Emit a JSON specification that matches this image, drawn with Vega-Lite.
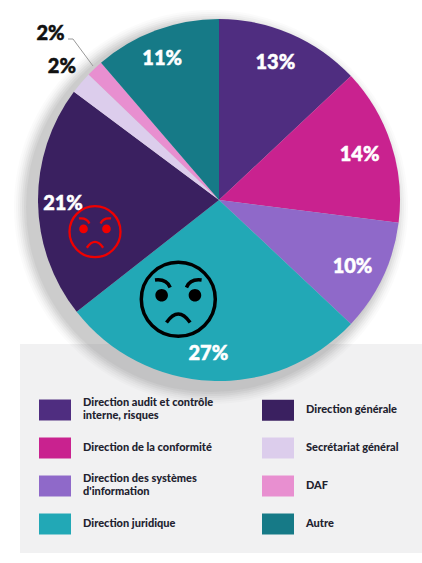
{
"$schema":"https://vega.github.io/schema/vega-lite/v6.json",
"width":422,"height":563,"padding":0,"autosize":{"type":"none"},"background":"white",
"data":{"values":[
{"dept":"Direction audit et contrôle interne, risques","pct":13,"rang":1,"label":"13%"},
{"dept":"Direction de la conformité","pct":14,"rang":2,"label":"14%"},
{"dept":"Direction des systèmes d'information","pct":10,"rang":3,"label":"10%"},
{"dept":"Direction juridique","pct":27.4,"rang":4,"label":"27%"},
{"dept":"Direction générale","pct":20.8,"rang":5,"label":"21%"},
{"dept":"Secrétariat général","pct":2,"rang":6,"label":"2%"},
{"dept":"DAF","pct":1.5,"rang":7,"label":"2%"},
{"dept":"Autre","pct":11.3,"rang":8,"label":"11%"}
]},
"layer":[
{"data":{"values":[{"fond":"panneau"}]},"mark":{"type":"rect","x":20,"x2":422,"y":344,"y2":553,"fill":"#f1f1f2"},"encoding":{}},
{"data":{"values":[{"r":1}]},"mark":{"type":"arc","x":211,"y":207,"theta":0,"theta2":6.2832,"outerRadius":197,"fill":"#777","opacity":0.03},"encoding":{}},
{"data":{"values":[{"r":2}]},"mark":{"type":"arc","x":211,"y":207,"theta":0,"theta2":6.2832,"outerRadius":195,"fill":"#777","opacity":0.04},"encoding":{}},
{"data":{"values":[{"r":3}]},"mark":{"type":"arc","x":211,"y":207,"theta":0,"theta2":6.2832,"outerRadius":193,"fill":"#777","opacity":0.05},"encoding":{}},
{"data":{"values":[{"r":4}]},"mark":{"type":"arc","x":211,"y":207,"theta":0,"theta2":6.2832,"outerRadius":191,"fill":"#777","opacity":0.06},"encoding":{}},
{"data":{"values":[{"r":5}]},"mark":{"type":"arc","x":211,"y":207,"theta":0,"theta2":6.2832,"outerRadius":189,"fill":"#777","opacity":0.07},"encoding":{}},
{"data":{"values":[{"r":6}]},"mark":{"type":"arc","x":211,"y":207,"theta":0,"theta2":6.2832,"outerRadius":187,"fill":"#777","opacity":0.08},"encoding":{}},
{"data":{"values":[{"r":7}]},"mark":{"type":"arc","x":211,"y":207,"theta":0,"theta2":6.2832,"outerRadius":185,"fill":"#777","opacity":0.09},"encoding":{}},
{"mark":{"type":"arc","x":219,"y":200,"outerRadius":181},
 "encoding":{
  "theta":{"field":"pct","type":"quantitative","stack":true},
  "order":{"field":"rang","type":"ordinal"},
  "color":{"field":"dept","type":"nominal",
   "scale":{"domain":["Direction audit et contrôle interne, risques","Direction de la conformité","Direction des systèmes d'information","Direction juridique","Direction générale","Secrétariat général","DAF","Autre"],
            "range":["#4f2d80","#c9228f","#8f69c9","#22a8b6","#3a2060","#dccdec","#e88fd0","#167a87"]},
   "legend":{"orient":"none","legendX":39,"legendY":394,"title":null,"columns":2,"gridAlign":"all","padding":0,
    "values":["Direction audit et contrôle interne, risques","Direction de la conformité","Direction des systèmes d'information","Direction juridique","Direction générale","Secrétariat général","DAF","Autre"],
    "symbolType":"M-1,-0.656H1V0.656H-1Z","symbolSize":1024,"symbolStrokeWidth":0,"symbolOpacity":1,
    "labelOffset":12,"labelFont":"Lato","labelFontWeight":900,"labelFontSize":11,"labelColor":"#22222f","labelLimit":0,
    "labelExpr":"datum.label=='Direction audit et contrôle interne, risques'?['Direction audit et contrôle','interne, risques']:datum.label==\"Direction des systèmes d'information\"?['Direction des systèmes',\"d'information\"]:datum.label",
    "encoding":{"labels":{"dy":{"value":{"expr":"indexof(datum.value,'interne')>=0||indexof(datum.value,'systèmes')>=0?-7:0"}}}},
    "rowPadding":11,"columnPadding":48}
  }
 }},
{"mark":{"type":"text","x":219,"y":200,"radius":152,"dx":-4,"dy":2,"fill":"white","stroke":"white","strokeWidth":0.5,"font":"Lato","fontWeight":900,"fontSize":20,"align":"center","baseline":"middle"},
 "encoding":{
  "theta":{"field":"pct","type":"quantitative","stack":true},
  "order":{"field":"rang","type":"ordinal"},
  "detail":{"field":"dept","type":"nominal"},
  "text":{"condition":{"test":"datum.rang!=6&&datum.rang!=7","field":"label"},"value":""}
 }},
{"mark":{"type":"text","x":219,"y":200,"radius":206,"fill":"#111","stroke":"#111","strokeWidth":0.5,"font":"Lato","fontWeight":900,"fontSize":20,"align":"center","baseline":"middle"},
 "encoding":{
  "theta":{"field":"pct","type":"quantitative","stack":true},
  "order":{"field":"rang","type":"ordinal"},
  "detail":{"field":"dept","type":"nominal"},
  "text":{"condition":{"test":"datum.rang==6","field":"label"},"value":""}
 }},
{"mark":{"type":"text","x":219,"y":200,"radius":238,"dx":-5,"dy":7,"fill":"#111","stroke":"#111","strokeWidth":0.5,"font":"Lato","fontWeight":900,"fontSize":20,"align":"center","baseline":"middle"},
 "encoding":{
  "theta":{"field":"pct","type":"quantitative","stack":true},
  "order":{"field":"rang","type":"ordinal"},
  "detail":{"field":"dept","type":"nominal"},
  "text":{"condition":{"test":"datum.rang==7","field":"label"},"value":""}
 }},
{"data":{"values":[{"trait":"a"}]},"mark":{"type":"point","x":80,"y":52,"size":4,"filled":false,"fill":"transparent","opacity":1,"stroke":"#999","strokeWidth":1,"shape":"M-12,-13H-7L13,14"},"encoding":{}},
{"data":{"values":[{"visage":"grand"}]},"mark":{"type":"point","x":178.3,"y":299.3,"size":5476,"filled":false,"fill":"transparent","opacity":1,"stroke":"#000","strokeWidth":3.5,"shape":"M-1,0A1,1 0 1,1 1,0A1,1 0 1,1 -1,0Z M-0.63,-0.52Q-0.32,-0.56 -0.22,-0.32 M0.63,-0.52Q0.32,-0.56 0.22,-0.32 M-0.32,0.63Q0,0.17 0.32,0.63"},"encoding":{}},
{"data":{"values":[{"visage":"grand"}]},"mark":{"type":"point","x":178.3,"y":299.3,"size":5476,"filled":true,"opacity":1,"fill":"#000","strokeWidth":0,"shape":"M-0.62,-0.11A0.17,0.17 0 1,1 -0.28,-0.11A0.17,0.17 0 1,1 -0.62,-0.11Z M0.28,-0.11A0.17,0.17 0 1,1 0.62,-0.11A0.17,0.17 0 1,1 0.28,-0.11Z"},"encoding":{}},
{"data":{"values":[{"visage":"petit"}]},"mark":{"type":"point","x":95,"y":231.7,"size":2601,"filled":false,"fill":"transparent","opacity":1,"stroke":"#f00000","strokeWidth":2.3,"shape":"M-1,0A1,1 0 1,1 1,0A1,1 0 1,1 -1,0Z M-0.63,-0.52Q-0.32,-0.56 -0.22,-0.32 M0.63,-0.52Q0.32,-0.56 0.22,-0.32 M-0.32,0.63Q0,0.17 0.32,0.63"},"encoding":{}},
{"data":{"values":[{"visage":"petit"}]},"mark":{"type":"point","x":95,"y":231.7,"size":2601,"filled":true,"opacity":1,"fill":"#f00000","strokeWidth":0,"shape":"M-0.62,-0.11A0.17,0.17 0 1,1 -0.28,-0.11A0.17,0.17 0 1,1 -0.62,-0.11Z M0.28,-0.11A0.17,0.17 0 1,1 0.62,-0.11A0.17,0.17 0 1,1 0.28,-0.11Z"},"encoding":{}}
]
}
